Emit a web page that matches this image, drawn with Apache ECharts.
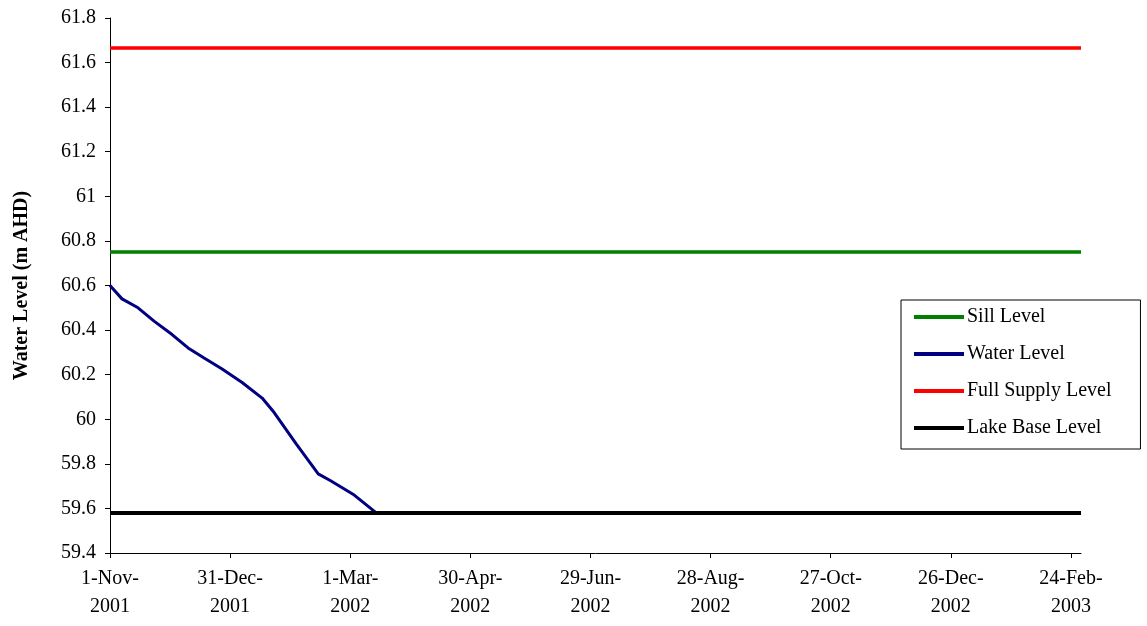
<!DOCTYPE html>
<html>
<head>
<meta charset="utf-8">
<script src="https://cdn.jsdelivr.net/npm/echarts@6/dist/echarts.min.js"></script>
<style>
  html, body { margin: 0; padding: 0; background: #fff; }
  #chart { width: 1147px; height: 626px; }
</style>
</head>
<body>
<div id="chart"></div>
<script>
// Observed lake water level (m AHD)
const waterDates = ['2001-11-01','2001-11-07','2001-11-15','2001-11-23','2001-12-02','2001-12-10',
  '2001-12-18','2001-12-27','2002-01-06','2002-01-16','2002-01-22','2002-02-02','2002-02-13',
  '2002-02-19','2002-03-03','2002-03-14','2003-03-01'];
const waterValues = [60.60, 60.54, 60.50, 60.44, 60.38, 60.32,
  60.275, 60.225, 60.165, 60.095, 60.03, 59.89, 59.755,
  59.725, 59.66, 59.58, 59.58];

// Reference levels (m AHD)
const sillLevel = 60.75;
const fullSupplyLevel = 61.665;
const lakeBaseLevel = 59.58;

// Period shown and date tick spacing
const startDate = '2001-11-01';
const endDate = '2003-03-01';
const tickStepDays = 60;
const months = ['Jan','Feb','Mar','Apr','May','Jun','Jul','Aug','Sep','Oct','Nov','Dec'];

const DAY = 86400000;
const t0 = Date.parse(startDate + 'T00:00:00Z');
const dayOf = s => Math.round((Date.parse(s + 'T00:00:00Z') - t0) / DAY);
const endDay = dayOf(endDate);
const tickDays = [];
for (let d = 0; d <= endDay; d += tickStepDays) tickDays.push(d);

function dateLabel(d) {
  const dt = new Date(t0 + d * DAY);
  return dt.getUTCDate() + '-' + months[dt.getUTCMonth()] + '-\n' + dt.getUTCFullYear();
}

const flat = v => [[0, v], [endDay, v]];
const waterData = waterDates.map((s, i) => [dayOf(s), waterValues[i]]);

const font = 'Liberation Serif';
const chart = echarts.init(document.getElementById('chart'));
chart.setOption({
  animation: false,
  backgroundColor: '#fff',
  textStyle: { fontFamily: font, color: '#000' },
  grid: { left: 110, right: 66, top: 18, bottom: 73 },
  legend: {
    orient: 'vertical',
    left: 901, top: 300,
    padding: [7, 29, 11, 13],
    itemGap: 17,
    itemWidth: 50, itemHeight: 4,
    icon: 'rect',
    borderColor: '#000', borderWidth: 1,
    backgroundColor: '#fff',
    textStyle: { fontFamily: font, fontSize: 20, color: '#000', padding: [0, 0, 0, -2] },
    data: ['Sill Level', 'Water Level', 'Full Supply Level', 'Lake Base Level']
  },
  xAxis: {
    type: 'value',
    min: 0, max: endDay,
    splitLine: { show: false },
    axisLine: { lineStyle: { color: '#000', width: 1 } },
    axisTick: { customValues: tickDays, length: 5, lineStyle: { color: '#000' } },
    axisLabel: {
      customValues: tickDays,
      formatter: v => dateLabel(v),
      fontFamily: font, fontSize: 20, color: '#000',
      lineHeight: 28, margin: 12
    }
  },
  yAxis: {
    type: 'value',
    min: 59.4, max: 61.8, interval: 0.2,
    name: 'Water Level (m AHD)',
    nameLocation: 'middle',
    nameGap: 78,
    nameTextStyle: { fontFamily: font, fontSize: 20, fontWeight: 'bold', color: '#000' },
    splitLine: { show: false },
    axisLine: { show: true, lineStyle: { color: '#000', width: 1 } },
    axisTick: { show: true, length: 5, lineStyle: { color: '#000' } },
    axisLabel: {
      fontFamily: font, fontSize: 20, color: '#000', margin: 14,
      formatter: v => String(parseFloat(v.toFixed(1)))
    }
  },
  series: [
    { name: 'Sill Level', type: 'line', data: flat(sillLevel), showSymbol: false, symbol: 'none',
      lineStyle: { color: '#008000', width: 3.5 }, itemStyle: { color: '#008000' } },
    { name: 'Water Level', type: 'line', data: waterData, showSymbol: false, symbol: 'none',
      lineStyle: { color: '#000080', width: 3 }, itemStyle: { color: '#000080' } },
    { name: 'Full Supply Level', type: 'line', data: flat(fullSupplyLevel), showSymbol: false, symbol: 'none',
      lineStyle: { color: '#ff0000', width: 3.5 }, itemStyle: { color: '#ff0000' } },
    { name: 'Lake Base Level', type: 'line', data: flat(lakeBaseLevel), showSymbol: false, symbol: 'none',
      lineStyle: { color: '#000000', width: 4 }, itemStyle: { color: '#000000' } }
  ]
});
</script>
</body>
</html>
